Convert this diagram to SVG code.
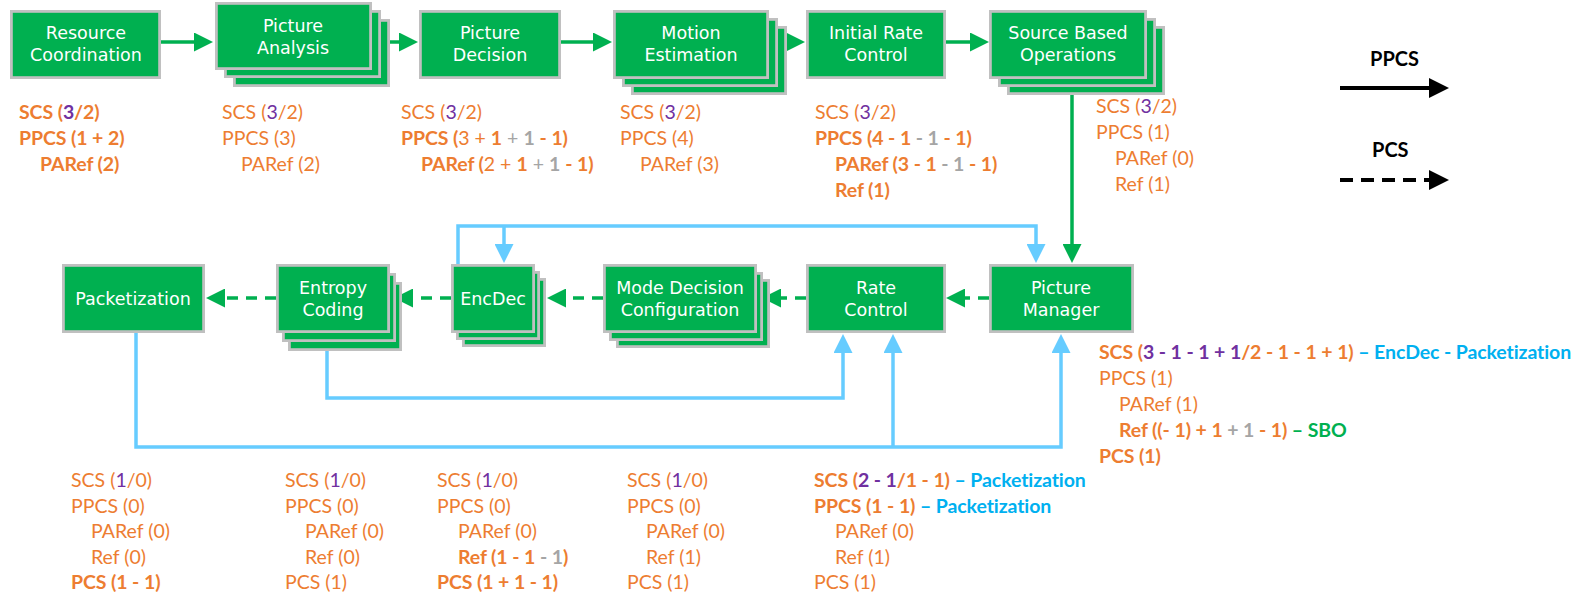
<svg xmlns="http://www.w3.org/2000/svg" width="1581" height="605" viewBox="0 0 1581 605">
<defs>
<style>
.box{fill:#00b050;stroke:#c0c0c0;stroke-width:2.8}
.lbl{font-family:"DejaVu Sans",Verdana,sans-serif;font-size:17.5px;fill:#ffffff;text-anchor:middle}
.a{font-family:Lato,"Liberation Sans",Arial,sans-serif;font-size:19.5px;fill:#ed7d31}
.bd{font-weight:bold;letter-spacing:-0.1px}
.p{fill:#7030a0}
.g{fill:#a5a5a5}
.bl{fill:#00b0f0;font-weight:bold}
.gr{fill:#00b050;font-weight:bold}
.gs{fill:none;stroke:#00b050;stroke-width:3.5;marker-end:url(#ag)}
.gd{fill:none;stroke:#00b050;stroke-width:3.5;stroke-dasharray:11 8;marker-end:url(#ag)}
.bls{fill:none;stroke:#66ccff;stroke-width:3.5;marker-end:url(#ab)}
.ks{fill:none;stroke:#000000;stroke-width:4;marker-end:url(#ak)}
.kd{fill:none;stroke:#000000;stroke-width:4;stroke-dasharray:13 8;marker-end:url(#ak)}
.leg{font-family:Lato,"Liberation Sans",Arial,sans-serif;font-size:20px;font-weight:bold;fill:#000000}
</style>
<marker id="ag" markerUnits="userSpaceOnUse" viewBox="0 0 19 19" markerWidth="19" markerHeight="19" refX="12" refY="9.5" orient="auto"><path d="M0,0 L19,9.5 L0,19 z" fill="#00b050"/></marker>
<marker id="ab" markerUnits="userSpaceOnUse" viewBox="0 0 19 19" markerWidth="19" markerHeight="19" refX="12" refY="9.5" orient="auto"><path d="M0,0 L19,9.5 L0,19 z" fill="#66ccff"/></marker>
<marker id="ak" markerUnits="userSpaceOnUse" viewBox="0 0 20 20" markerWidth="20" markerHeight="20" refX="12" refY="10" orient="auto"><path d="M0,0 L20,10 L0,20 z" fill="#000000"/></marker>
</defs>
<rect x="0" y="0" width="1581" height="605" fill="#ffffff"/>

<g id="connectors">
<path class="gs" d="M161,42 H206"/>
<path class="gs" d="M390,42 H411"/>
<path class="gs" d="M561,42 H605"/>
<path class="gs" d="M787,42 H798"/>
<path class="gs" d="M946,42 H982"/>
<path class="gs" d="M1072,95 V256"/>
<path class="gd" d="M989,298 H953"/>
<path class="gd" d="M806,298 H769"/>
<path class="gd" d="M603,298 H554"/>
<path class="gd" d="M451,298 H401"/>
<path class="gd" d="M276,298 H213"/>
<path class="bls" d="M458,264 V226 H1036 V256"/>
<path class="bls" d="M504,226 V256"/>
<path class="bls" d="M327,333 V398 H843 V341"/>
<path class="bls" d="M136,333 V447 H1061 V341"/>
<path class="bls" d="M893,447 V341"/>
</g>

<g id="legend">
<text class="leg" x="1370" y="66">PPCS</text>
<path class="ks" d="M1340,88 H1441"/>
<text class="leg" x="1372" y="157">PCS</text>
<path class="kd" d="M1340,180 H1441"/>
</g>

<g id="resource-coordination">
<rect class="box" x="11.4" y="11.4" width="148.2" height="66.2"/>
<text class="lbl" x="86" y="39">Resource</text>
<text class="lbl" x="86" y="61">Coordination</text>
</g>

<g id="picture-analysis">
<rect class="box" x="234.4" y="20.4" width="154.2" height="65.2"/>
<rect class="box" x="225.4" y="11.4" width="154.2" height="65.2"/>
<rect class="box" x="216.4" y="3.4" width="154.2" height="65.2"/>
<text class="lbl" x="293" y="32">Picture</text>
<text class="lbl" x="293" y="54">Analysis</text>
</g>

<g id="picture-decision">
<rect class="box" x="420.4" y="11.4" width="139.2" height="66.2"/>
<text class="lbl" x="490" y="39">Picture</text>
<text class="lbl" x="490" y="61">Decision</text>
</g>

<g id="motion-estimation">
<rect class="box" x="632.4" y="27.4" width="153.2" height="66.2"/>
<rect class="box" x="623.4" y="19.4" width="153.2" height="66.2"/>
<rect class="box" x="614.4" y="11.4" width="153.2" height="66.2"/>
<text class="lbl" x="691" y="39">Motion</text>
<text class="lbl" x="691" y="61">Estimation</text>
</g>

<g id="initial-rate-control">
<rect class="box" x="807.4" y="11.4" width="137.2" height="66.2"/>
<text class="lbl" x="876" y="39">Initial Rate</text>
<text class="lbl" x="876" y="61">Control</text>
</g>

<g id="source-based-operations">
<rect class="box" x="1008.4" y="27.4" width="155.2" height="66.2"/>
<rect class="box" x="999.4" y="19.4" width="155.2" height="66.2"/>
<rect class="box" x="990.4" y="11.4" width="155.2" height="66.2"/>
<text class="lbl" x="1068" y="39">Source Based</text>
<text class="lbl" x="1068" y="61">Operations</text>
</g>

<g id="packetization">
<rect class="box" x="63.4" y="265.4" width="140.2" height="66.2"/>
<text class="lbl" x="133" y="305">Packetization</text>
</g>

<g id="entropy-coding">
<rect class="box" x="289.4" y="283.4" width="111.2" height="66.2"/>
<rect class="box" x="283.4" y="274.4" width="111.2" height="66.2"/>
<rect class="box" x="277.4" y="265.4" width="111.2" height="66.2"/>
<text class="lbl" x="333" y="294">Entropy</text>
<text class="lbl" x="333" y="316">Coding</text>
</g>

<g id="encdec">
<rect class="box" x="463.4" y="279.4" width="81.2" height="66.2"/>
<rect class="box" x="457.4" y="272.4" width="81.2" height="66.2"/>
<rect class="box" x="452.4" y="265.4" width="81.2" height="66.2"/>
<text class="lbl" x="493" y="305">EncDec</text>
</g>

<g id="mode-decision-configuration">
<rect class="box" x="617.4" y="280.4" width="151.2" height="66.2"/>
<rect class="box" x="610.4" y="273.4" width="151.2" height="66.2"/>
<rect class="box" x="604.4" y="265.4" width="151.2" height="66.2"/>
<text class="lbl" x="680" y="294">Mode Decision</text>
<text class="lbl" x="680" y="316">Configuration</text>
</g>

<g id="rate-control">
<rect class="box" x="807.4" y="265.4" width="137.2" height="66.2"/>
<text class="lbl" x="876" y="294">Rate</text>
<text class="lbl" x="876" y="316">Control</text>
</g>

<g id="picture-manager">
<rect class="box" x="990.4" y="265.4" width="142.2" height="66.2"/>
<text class="lbl" x="1061" y="294">Picture</text>
<text class="lbl" x="1061" y="316">Manager</text>
</g>

<g id="notes-resource-coordination" class="a bd">
<text x="19" y="118.5">SCS (<tspan class="p">3</tspan>/2)</text>
<text x="19" y="144.5">PPCS (1 + 2)</text>
<text x="40" y="170.5">PARef (2)</text>
</g>
<g id="notes-picture-analysis" class="a">
<text x="222" y="118.5">SCS (<tspan class="p">3</tspan>/2)</text>
<text x="222" y="144.5">PPCS (3)</text>
<text x="241" y="170.5">PARef (2)</text>
</g>
<g id="notes-picture-decision" class="a">
<text x="401" y="118.5">SCS (<tspan class="p">3</tspan>/2)</text>
<text x="401" y="144.5"><tspan class="bd">PPCS (</tspan>3 + <tspan class="bd">1</tspan> <tspan class="g">+ <tspan class="bd">1</tspan></tspan> <tspan class="bd">- 1)</tspan></text>
<text x="421" y="170.5"><tspan class="bd">PARef (</tspan>2 + <tspan class="bd">1</tspan> <tspan class="g">+ <tspan class="bd">1</tspan></tspan> <tspan class="bd">- 1)</tspan></text>
</g>
<g id="notes-motion-estimation" class="a">
<text x="620" y="118.5">SCS (<tspan class="p">3</tspan>/2)</text>
<text x="620" y="144.5">PPCS (4)</text>
<text x="640" y="170.5">PARef (3)</text>
</g>
<g id="notes-initial-rate-control" class="a">
<text x="815" y="118.5">SCS (<tspan class="p">3</tspan>/2)</text>
<text x="815" y="144.5" class="bd">PPCS (4 - 1 <tspan class="g">- 1</tspan> - 1)</text>
<text x="835" y="170.5" class="bd">PARef (3 - 1 <tspan class="g">- 1</tspan> - 1)</text>
<text x="835" y="196.5" class="bd">Ref (1)</text>
</g>
<g id="notes-source-based-operations" class="a">
<text x="1096" y="113">SCS (<tspan class="p">3</tspan>/2)</text>
<text x="1096" y="139">PPCS (1)</text>
<text x="1115" y="165">PARef (0)</text>
<text x="1115" y="191">Ref (1)</text>
</g>
<g id="notes-picture-manager" class="a">
<text x="1099" y="358.5" class="bd">SCS (<tspan class="p">3 - 1 - 1 + 1</tspan>/2 - 1 - 1 + 1) <tspan class="bl">– EncDec - Packetization</tspan></text>
<text x="1099" y="384.5">PPCS (1)</text>
<text x="1119" y="410.5">PARef (1)</text>
<text x="1119" y="436.5" class="bd">Ref ((- 1) + 1 <tspan class="g">+ 1</tspan> - 1) <tspan class="gr">– SBO</tspan></text>
<text x="1099" y="462.5" class="bd">PCS (1)</text>
</g>
<g id="notes-packetization" class="a">
<text x="71" y="487">SCS (<tspan class="p">1</tspan>/0)</text>
<text x="71" y="512.5">PPCS (0)</text>
<text x="91" y="538">PARef (0)</text>
<text x="91" y="563.5">Ref (0)</text>
<text x="71" y="589" class="bd">PCS (1 - 1)</text>
</g>
<g id="notes-entropy-coding" class="a">
<text x="285" y="487">SCS (<tspan class="p">1</tspan>/0)</text>
<text x="285" y="512.5">PPCS (0)</text>
<text x="305" y="538">PARef (0)</text>
<text x="305" y="563.5">Ref (0)</text>
<text x="285" y="589">PCS (1)</text>
</g>
<g id="notes-encdec" class="a">
<text x="437" y="487">SCS (<tspan class="p">1</tspan>/0)</text>
<text x="437" y="512.5">PPCS (0)</text>
<text x="458" y="538">PARef (0)</text>
<text x="458" y="563.5" class="bd">Ref (1 - 1 <tspan class="g">- 1</tspan>)</text>
<text x="437" y="589" class="bd">PCS (1 + 1 - 1)</text>
</g>
<g id="notes-mode-decision-configuration" class="a">
<text x="627" y="487">SCS (<tspan class="p">1</tspan>/0)</text>
<text x="627" y="512.5">PPCS (0)</text>
<text x="646" y="538">PARef (0)</text>
<text x="646" y="563.5">Ref (1)</text>
<text x="627" y="589">PCS (1)</text>
</g>
<g id="notes-rate-control" class="a">
<text x="814" y="487" class="bd">SCS (<tspan class="p">2 - 1</tspan>/1 - 1) <tspan class="bl">– Packetization</tspan></text>
<text x="814" y="512.5" class="bd">PPCS (1 - 1) <tspan class="bl">– Packetization</tspan></text>
<text x="835" y="538">PARef (0)</text>
<text x="835" y="563.5">Ref (1)</text>
<text x="814" y="589">PCS (1)</text>
</g>
</svg>
